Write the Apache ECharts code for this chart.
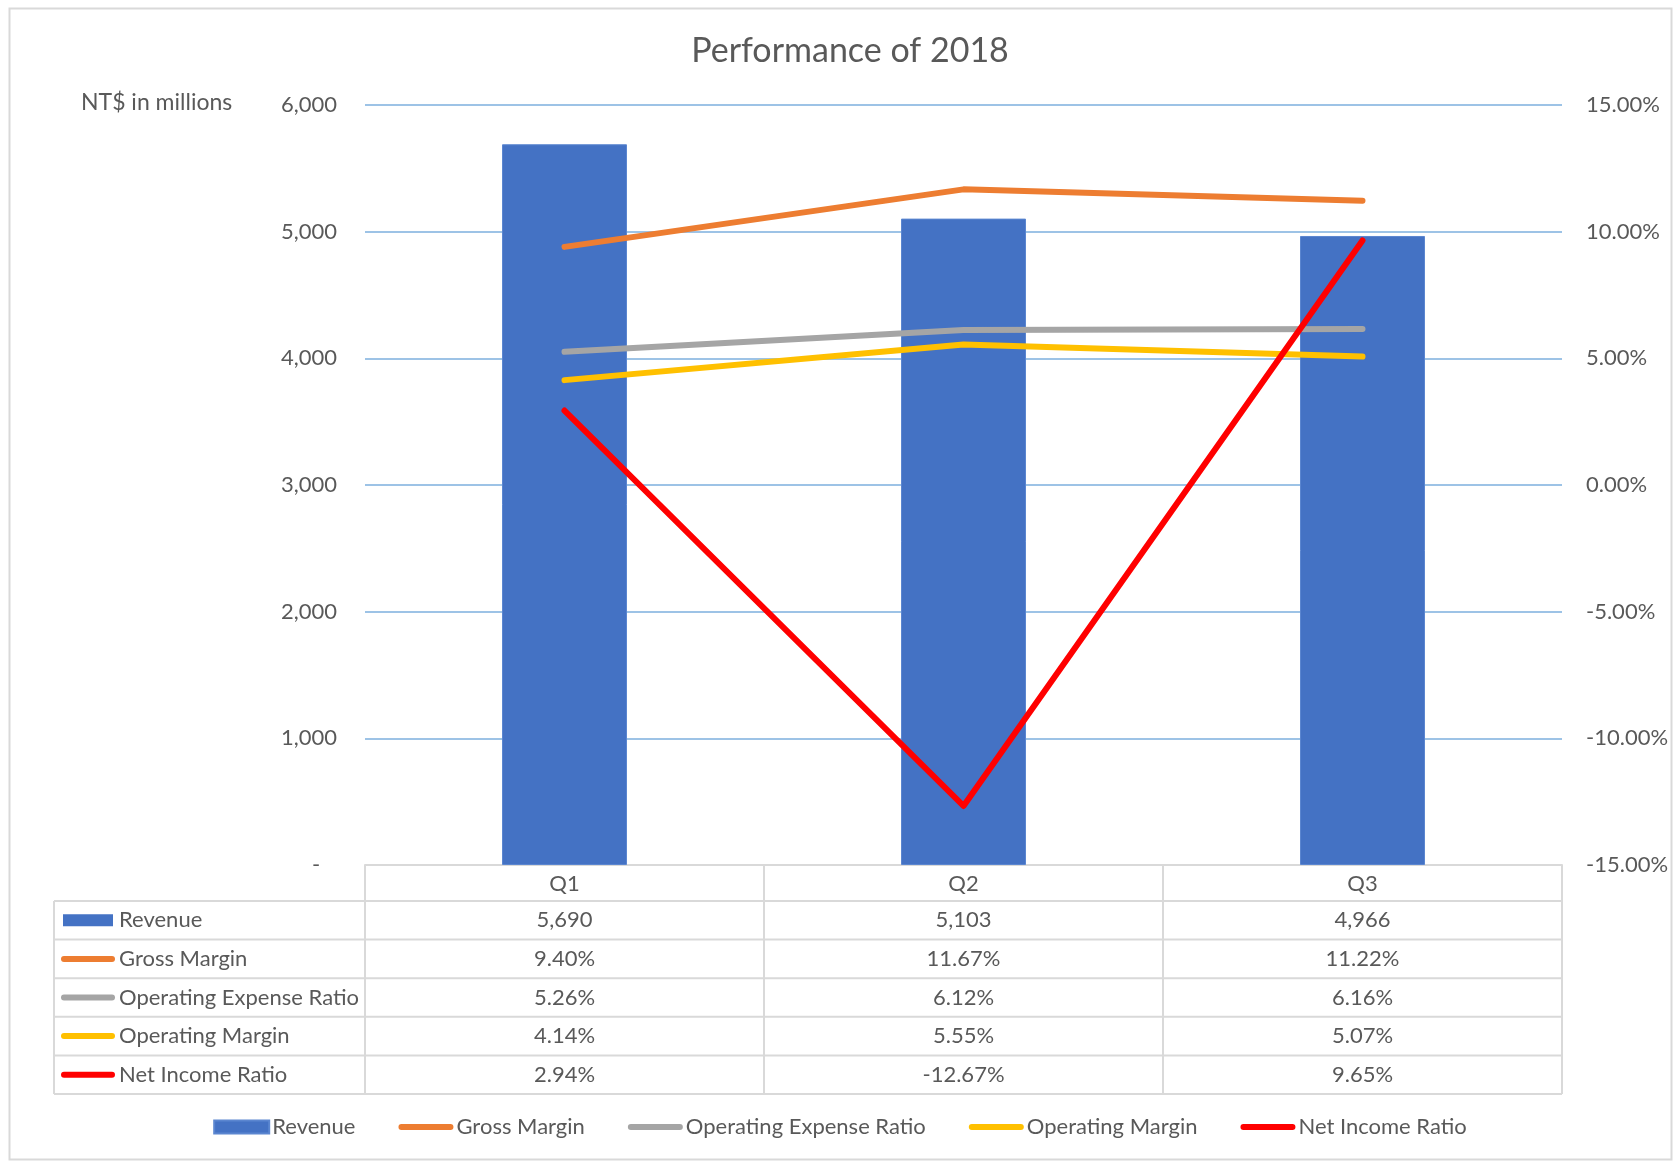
<!DOCTYPE html>
<html>
<head>
<meta charset="utf-8">
<title>Performance of 2018</title>
<script src="https://cdn.jsdelivr.net/npm/echarts@6/dist/echarts.min.js"></script>
<style>
  html, body { margin: 0; padding: 0; background: #fff; }
  #chart { width: 1680px; height: 1161px; }
</style>
</head>
<body>
<div id="chart"></div>
<script>
const categories = ["Q1", "Q2", "Q3"];
const revenue = [5690, 5103, 4966];
const grossMargin = [9.40, 11.67, 11.22];
const opexRatio = [5.26, 6.12, 6.16];
const opMargin = [4.14, 5.55, 5.07];
const netIncome = [2.94, -12.67, 9.65];

const seriesNames = ["Revenue", "Gross Margin", "Operating Expense Ratio", "Operating Margin", "Net Income Ratio"];
const seriesColors = ["#4472C4", "#ED7D31", "#A5A5A5", "#FFC000", "#FF0000"];

const FONT = "Lato";
const FS = 22;
const TEXT = "#595959";
const BORDER = "#d9d9d9";

// layout of plot area + data table
const GRID_LEFT = 365;
const GRID_RIGHT = 1562;
const GRID_TOP = 105;
const GRID_BOTTOM = 865;
const TABLE_LEFT = 54;
const HEAD_H = 36;
const ROW_H = 38.6;

const fmtRev = v => v.toLocaleString("en-US");
const fmtPct = v => v.toFixed(2) + "%";

const chart = echarts.init(document.getElementById("chart"));

// data table drawn under the axis
const rows = [
  { name: seriesNames[0], vals: revenue.map(fmtRev), icon: "bar" },
  { name: seriesNames[1], vals: grossMargin.map(fmtPct) },
  { name: seriesNames[2], vals: opexRatio.map(fmtPct) },
  { name: seriesNames[3], vals: opMargin.map(fmtPct) },
  { name: seriesNames[4], vals: netIncome.map(fmtPct) },
];

const colW = (GRID_RIGHT - GRID_LEFT) / categories.length;
const tableTop = GRID_BOTTOM + HEAD_H;
const tableBottom = tableTop + ROW_H * rows.length;
const lineStyle = { stroke: BORDER, lineWidth: 2 };
const graphics = [];

// outer chart border
graphics.push({
  type: "rect", left: 7, top: 6, silent: true,
  shape: { width: 1662, height: 1151 },
  style: { fill: "none", stroke: BORDER, lineWidth: 2 }
});

// axis name at top-left
graphics.push({
  type: "text", left: 81, top: 91,
  style: { text: "NT$ in millions", fill: TEXT, font: "23px " + FONT }
});

// table horizontal lines
for (let i = 0; i <= rows.length; i++) {
  const y = tableTop + ROW_H * i;
  graphics.push({ type: "line", shape: { x1: TABLE_LEFT, y1: y, x2: GRID_RIGHT, y2: y }, style: lineStyle });
}
// table vertical lines
graphics.push({ type: "line", shape: { x1: TABLE_LEFT, y1: tableTop, x2: TABLE_LEFT, y2: tableBottom }, style: lineStyle });
for (let c = 0; c <= categories.length; c++) {
  const x = GRID_LEFT + colW * c;
  graphics.push({ type: "line", shape: { x1: x, y1: GRID_BOTTOM, x2: x, y2: tableBottom }, style: lineStyle });
}

rows.forEach((r, i) => {
  const cy = tableTop + ROW_H * (i + 0.5);
  if (r.icon === "bar") {
    graphics.push({ type: "rect", shape: { x: 63, y: cy - 6, width: 50, height: 12 }, style: { fill: seriesColors[i] } });
  } else {
    graphics.push({ type: "line", shape: { x1: 64, y1: cy, x2: 112, y2: cy },
      style: { stroke: seriesColors[i], lineWidth: 6, lineCap: "round" } });
  }
  graphics.push({
    type: "text", x: 119, y: cy,
    style: { text: r.name, fill: TEXT, font: FS + "px " + FONT, textVerticalAlign: "middle" }
  });
  r.vals.forEach((v, c) => {
    graphics.push({
      type: "text", x: GRID_LEFT + colW * (c + 0.5), y: cy,
      style: { text: v, fill: TEXT, font: FS + "px " + FONT, textAlign: "center", textVerticalAlign: "middle" }
    });
  });
});

const lineSeries = (name, data, color, z) => ({
  name, type: "line", yAxisIndex: 1, data, z,
  showSymbol: false, symbol: "none",
  lineStyle: { color, width: 6, cap: "round", join: "round" },
  itemStyle: { color }
});

const lineIcon = "path://M3,0 H52 A3,3 0 0 1 52,6 H3 A3,3 0 0 1 3,0 Z";

const option = {
  animation: false,
  textStyle: { fontFamily: FONT },
  title: {
    text: "Performance of 2018",
    left: 845, top: 29, textAlign: "center",
    textStyle: { fontFamily: FONT, fontSize: 34, fontWeight: "normal", color: TEXT }
  },
  legend: {
    bottom: 18, left: "center",
    itemWidth: 55, itemHeight: 13, itemGap: 43,
    textStyle: { fontFamily: FONT, fontSize: FS, color: TEXT, padding: [0, 0, 0, -2] },
    data: [
      { name: seriesNames[0], icon: "rect" },
      { name: seriesNames[1], icon: lineIcon },
      { name: seriesNames[2], icon: lineIcon },
      { name: seriesNames[3], icon: lineIcon },
      { name: seriesNames[4], icon: lineIcon },
    ]
  },
  grid: {
    left: GRID_LEFT, right: 1680 - GRID_RIGHT, top: GRID_TOP, bottom: 1161 - GRID_BOTTOM,
    containLabel: false
  },
  xAxis: {
    type: "category", data: categories,
    axisLine: { lineStyle: { color: BORDER, width: 2 } },
    axisTick: { show: false },
    axisLabel: { color: TEXT, fontSize: FS, fontFamily: FONT, margin: 8 }
  },
  yAxis: [
    {
      type: "value", min: 0, max: 6000, interval: 1000,
      axisLine: { show: false }, axisTick: { show: false },
      axisLabel: {
        color: TEXT, fontSize: FS, fontFamily: FONT, margin: 28,
        formatter: v => (v === 0 ? "-   " : fmtRev(v))
      },
      splitLine: { lineStyle: { color: "#9DC3E6", width: 2 } }
    },
    {
      type: "value", min: -15, max: 15, interval: 5,
      axisLine: { show: false }, axisTick: { show: false },
      axisLabel: { color: TEXT, fontSize: FS, fontFamily: FONT, margin: 24, formatter: v => fmtPct(v) },
      splitLine: { show: false }
    }
  ],
  series: [
    {
      name: seriesNames[0], type: "bar", data: revenue, barWidth: 125,
      itemStyle: { color: seriesColors[0], borderColor: "#5B86D0", borderWidth: 1 }, z: 2
    },
    lineSeries(seriesNames[1], grossMargin, seriesColors[1], 3),
    lineSeries(seriesNames[2], opexRatio, seriesColors[2], 3),
    lineSeries(seriesNames[3], opMargin, seriesColors[3], 3),
    lineSeries(seriesNames[4], netIncome, seriesColors[4], 4),
  ],
  graphic: graphics
};

chart.setOption(option);
</script>
</body>
</html>
